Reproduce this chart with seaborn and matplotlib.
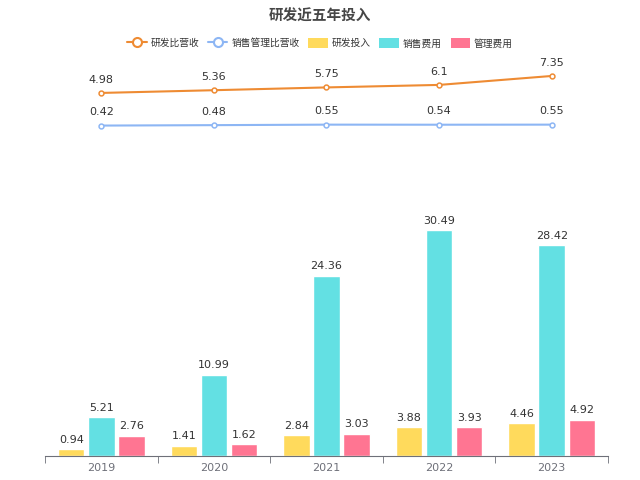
import numpy as np
import pandas as pd
import seaborn as sns
import matplotlib.pyplot as plt
from matplotlib.lines import Line2D
from matplotlib.patches import Patch

sns.set_style('white')
plt.rcParams['font.family'] = ['DejaVu Sans', 'Noto Sans CJK SC']

years = ['2019', '2020', '2021', '2022', '2023']
rd_ratio = [4.98, 5.36, 5.75, 6.1, 7.35]
sales_ratio = [0.42, 0.48, 0.55, 0.54, 0.55]
rd_cost = [0.94, 1.41, 2.84, 3.88, 4.46]
sales_cost = [5.21, 10.99, 24.36, 30.49, 28.42]
admin_cost = [2.76, 1.62, 3.03, 3.93, 4.92]

bar_names = ['研发投入', '销售费用', '管理费用']
bar_colors = ['#FFDA5C', '#63E0E3', '#FF7592']
line_colors = ['#EE8B33', '#8DB6F4']
cjk = ['Noto Sans CJK SC', 'DejaVu Sans']

df = pd.DataFrame({'year': years * 3,
                   'value': rd_cost + sales_cost + admin_cost,
                   'kind': [n for n in bar_names for _ in years]})

fig = plt.figure(figsize=(6.4, 4.8), dpi=100)
ax = fig.add_axes([0.0703, 0.05, 0.8797, 0.554])
ax_top = fig.add_axes([0.0703, 0.719, 0.8797, 0.156])

# bars
sns.barplot(data=df, x='year', y='value', hue='kind', palette=bar_colors,
            width=0.8, gap=0.12, ax=ax, legend=False, saturation=1)
for cont in ax.containers:
    ax.bar_label(cont, labels=[f'{v:g}' for v in cont.datavalues],
                 padding=3, fontsize=8, color='#333333')
ax.set_xlim(-0.5, 4.5)
ax.set_ylim(0, 35.9)
ax.set_xlabel('')
ax.set_ylabel('')
ax.set_yticks([])
for s in ['top', 'right', 'left']:
    ax.spines[s].set_visible(False)
ax.spines['bottom'].set_color('#6E7079')
ax.set_xticks(np.arange(-0.5, 5, 1), minor=True)
ax.tick_params(axis='x', which='major', length=0, labelsize=8,
               labelcolor='#6E7079', pad=5)
ax.tick_params(axis='x', which='minor', length=5, color='#6E7079',
               direction='out', bottom=True)

# ratio lines
x = np.arange(len(years))
for vals, c in zip([rd_ratio, sales_ratio], line_colors):
    sns.lineplot(x=x, y=vals, color=c, marker='o', markersize=3.5,
                 markerfacecolor='white', markeredgecolor=c, markeredgewidth=1.1,
                 linewidth=1.5, ax=ax_top)
    for xi, v in zip(x, vals):
        ax_top.annotate(f'{v:g}', (xi, v), xytext=(0, 6), textcoords='offset points',
                        ha='center', va='bottom', fontsize=8, color='#333333')
ax_top.set_xlim(-0.5, 4.5)
ax_top.set_ylim(-0.88, 9.58)
ax_top.axis('off')

fig.suptitle('研发近五年投入', y=0.985, fontsize=10.5, fontweight='bold',
             color='#464646', family=cjk)

handles = [Line2D([0], [0], color=line_colors[0], marker='o', markersize=6.5,
                  markerfacecolor='white', markeredgewidth=1.5, linewidth=1.5),
           Line2D([0], [0], color=line_colors[1], marker='o', markersize=6.5,
                  markerfacecolor='white', markeredgewidth=1.5, linewidth=1.5)]
handles += [Patch(facecolor=c, edgecolor='none') for c in bar_colors]
labels = ['研发比营收', '销售管理比营收'] + bar_names
fig.legend(handles, labels, loc='center', bbox_to_anchor=(0.5, 0.91), ncol=5,
           frameon=False, prop={'family': cjk, 'size': 7}, handlelength=2.0,
           handleheight=1.2, columnspacing=0.9, handletextpad=0.4,
           labelcolor='#333333')

fig.savefig('out.png', dpi=100)
